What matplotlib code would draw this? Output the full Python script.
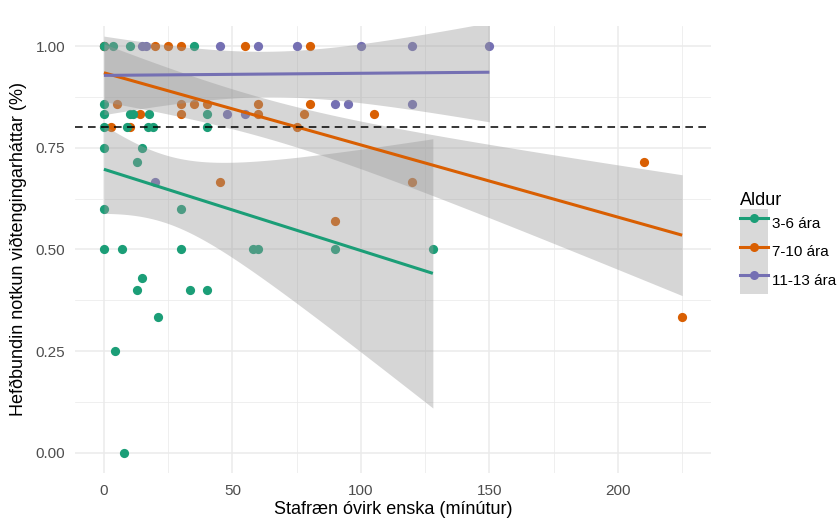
import numpy as np
import matplotlib
matplotlib.use("Agg")
import matplotlib.pyplot as plt
from matplotlib.lines import Line2D
from matplotlib.patches import Patch
from matplotlib.legend_handler import HandlerTuple
from matplotlib.ticker import MultipleLocator, FormatStrFormatter

plt.rcParams['font.family'] = ['Liberation Sans', 'DejaVu Sans']

# 3-6 ára
green_x = [0, 3.4, 10, 35, 0, 0, 10, 11.5, 17.5, 40, 0, 9, 17, 19, 40, 0, 15, 13,
           0, 30, 0, 7, 30, 58, 60, 90, 128, 15, 13, 33.5, 40, 21, 4.5, 8]
green_y = [1, 1, 1, 1, 0.857, 0.833, 0.833, 0.833, 0.833, 0.833, 0.8, 0.8, 0.8, 0.8, 0.8,
           0.75, 0.75, 0.714, 0.6, 0.6, 0.5, 0.5, 0.5, 0.5, 0.5, 0.5, 0.5, 0.429,
           0.4, 0.4, 0.4, 0.333, 0.25, 0]

# 7-10 ára
orange_x = [0, 20, 25, 30, 55, 80, 5, 30, 35, 40, 60, 80, 14, 30, 60, 78, 105,
            2.6, 10, 75, 45, 120, 90, 210, 225]
orange_y = [1, 1, 1, 1, 1, 1, 0.857, 0.857, 0.857, 0.857, 0.857, 0.857,
            0.833, 0.833, 0.833, 0.833, 0.833, 0.8, 0.8, 0.8, 0.667, 0.667,
            0.571, 0.714, 0.333]

# 11-13 ára
purple_x = [0, 0, 15, 16.5, 45, 60, 75, 100, 120, 150, 20, 48, 55, 90, 95, 120]
purple_y = [1, 1, 1, 1, 1, 1, 1, 1, 1, 1, 0.667, 0.833, 0.833, 0.857, 0.857, 0.857]

groups = ['3-6 ára', '7-10 ára', '11-13 ára']
colors = ['#1B9E77', '#D95F02', '#7570B3']
threshold = 0.8


def t975(df):
    # Cornish-Fisher approximation of the 97.5% t quantile
    z = 1.959964
    g1 = (z**3 + z) / 4
    g2 = (5 * z**5 + 16 * z**3 + 3 * z) / 96
    g3 = (3 * z**7 + 19 * z**5 + 17 * z**3 - 15 * z) / 384
    return z + g1 / df + g2 / df**2 + g3 / df**3


def lm_band(x, y, n=100):
    x = np.asarray(x, float)
    y = np.asarray(y, float)
    b, a = np.polyfit(x, y, 1)
    xs = np.linspace(x.min(), x.max(), n)
    fit = a + b * xs
    resid = y - (a + b * x)
    s = np.sqrt(np.sum(resid**2) / (len(x) - 2))
    sxx = np.sum((x - x.mean())**2)
    se = s * np.sqrt(1 / len(x) + (xs - x.mean())**2 / sxx)
    t = t975(len(x) - 2)
    return xs, fit, fit - t * se, fit + t * se


data = [(green_x, green_y), (orange_x, orange_y), (purple_x, purple_y)]

fig = plt.figure(figsize=(8.38, 5.18), dpi=100)
ax = fig.add_axes([0.0895, 0.087, 0.759, 0.863])

# points
for (x, y), c in zip(data[::-1], colors[::-1]):
    ax.scatter(x, y, s=44, color=c, linewidths=0, zorder=2)

# linear fits with 95% bands
for (x, y), c in zip(data, colors):
    xs, fit, lo, hi = lm_band(x, y)
    ax.fill_between(xs, lo, hi, color='#999999', alpha=0.4, lw=0, zorder=3)
    ax.plot(xs, fit, color=c, lw=2.2, zorder=4, solid_capstyle='butt')

ax.axhline(threshold, color='black', lw=1.1, ls=(0, (5, 3.5)), zorder=5)

ax.set_xlim(-11.25, 236.25)
ax.set_ylim(-0.05, 1.05)
ax.xaxis.set_major_locator(MultipleLocator(50))
ax.xaxis.set_minor_locator(MultipleLocator(25))
ax.yaxis.set_major_locator(MultipleLocator(0.25))
ax.yaxis.set_minor_locator(MultipleLocator(0.125))
ax.yaxis.set_major_formatter(FormatStrFormatter('%.2f'))
ax.grid(which='major', color='#EBEBEB', lw=1.1, zorder=0)
ax.grid(which='minor', color='#EBEBEB', lw=0.55, zorder=0)
ax.set_axisbelow(True)
for sp in ax.spines.values():
    sp.set_visible(False)
ax.tick_params(which='both', length=0, labelsize=11, labelcolor='#4D4D4D')
ax.tick_params(axis='y', pad=7)
ax.tick_params(axis='x', pad=8)

ax.set_xlabel('Stafræn óvirk enska (mínútur)', fontsize=13, labelpad=2)
ax.set_ylabel('Hefðbundin notkun viðtengingarháttar (%)', fontsize=13, labelpad=6)

handles = [(Patch(facecolor='#D9D9D9', edgecolor='none'),
            Line2D([], [], color=c, lw=2.2, marker='o', markersize=6.5, markeredgewidth=0))
           for c in colors]
leg = ax.legend(handles, groups, title='Aldur', loc='center left',
                bbox_to_anchor=(0.883, 0.531), bbox_transform=fig.transFigure,
                frameon=False, fontsize=11, title_fontsize=13, numpoints=1,
                handler_map={tuple: HandlerTuple(ndivide=1)},
                handlelength=1.83, handleheight=2.5, labelspacing=0,
                handletextpad=0.25, borderpad=0, borderaxespad=0, alignment='left')

fig.savefig('out.png', dpi=100)
